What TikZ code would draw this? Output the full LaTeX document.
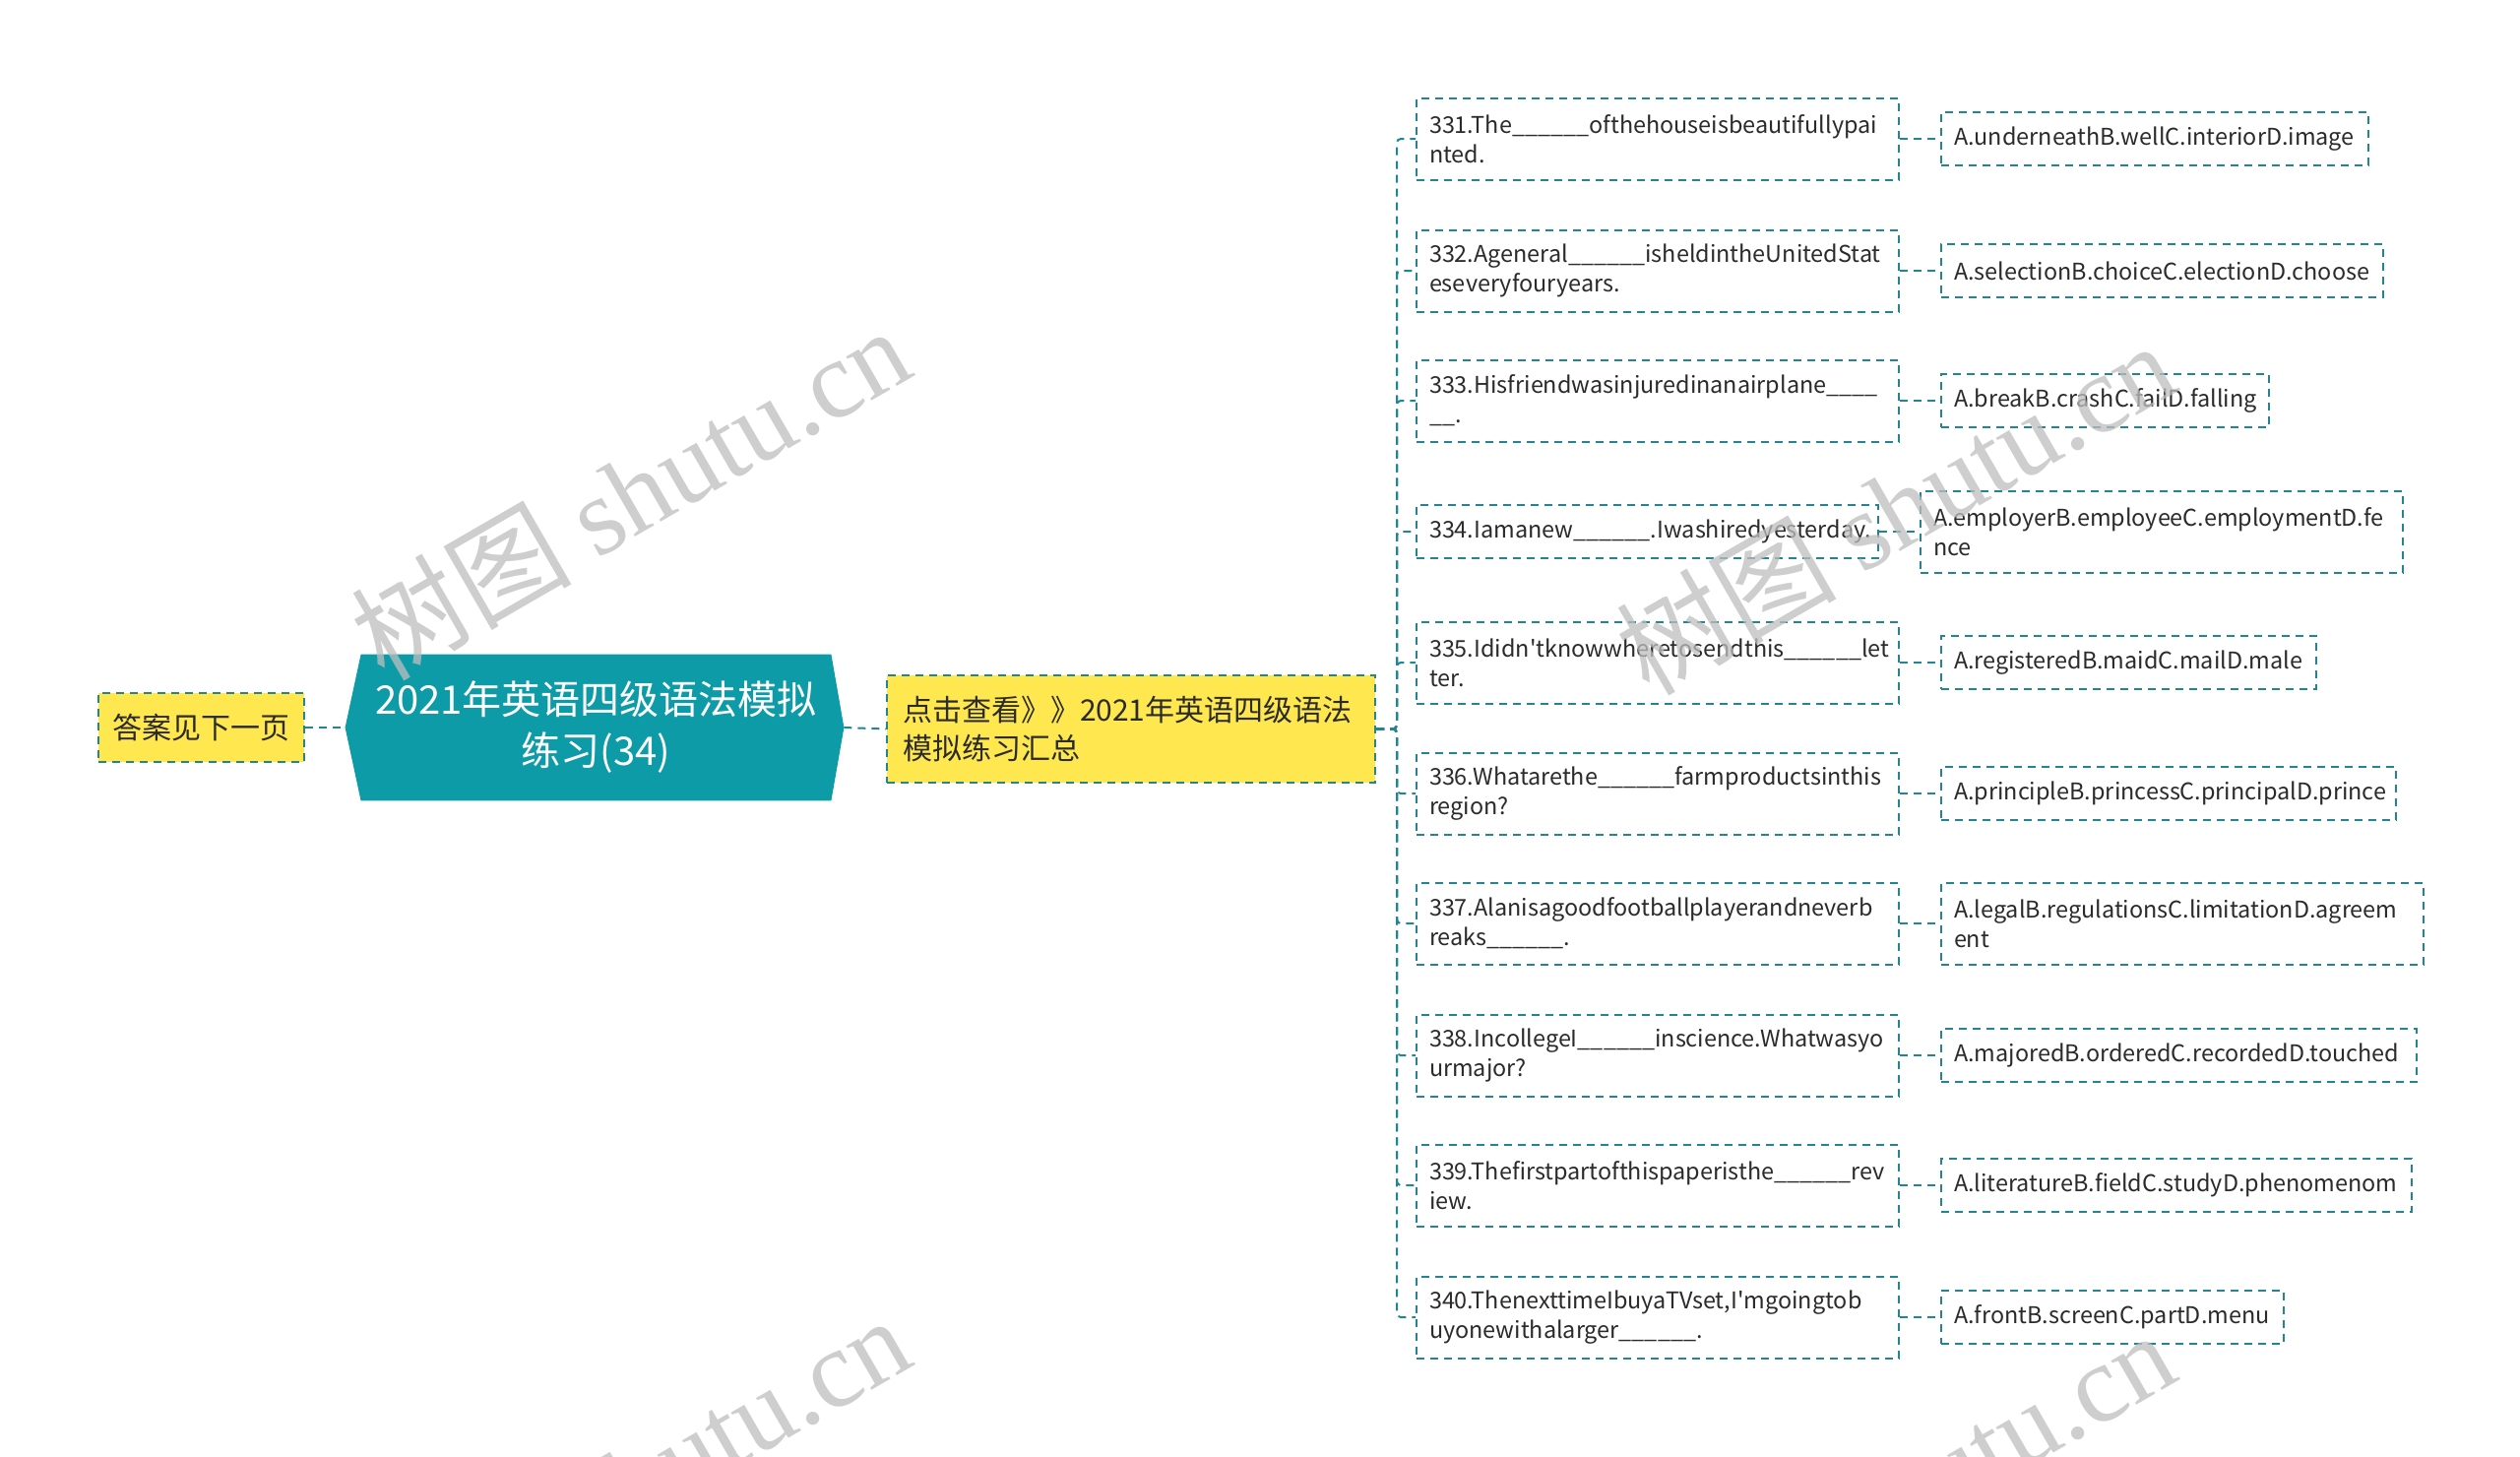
\documentclass[tikz,border=0pt]{standalone}
\usepackage{fontspec}
\setmainfont{Noto Sans CJK SC}
\newfontfamily\wmfont{Liberation Serif}
\usetikzlibrary{backgrounds,calc}
\hyphenpenalty=10000 \exhyphenpenalty=10000
\definecolor{hubfill}{HTML}{0E9BA8}
\definecolor{edgec}{HTML}{238591}
\definecolor{yel}{HTML}{FFE84F}
\definecolor{wmgray}{HTML}{BEBEBE}
\definecolor{txt}{HTML}{2B2B2B}
\begin{document}
\begin{tikzpicture}[x=0.5pt,y=-0.5pt,
  conn/.style={draw=edgec, line width=1pt, dash pattern=on 4pt off 3pt},
  boxbase/.style={draw=edgec, line width=1pt, dash pattern=on 4pt off 3pt, inner xsep=6.5pt, inner ysep=0pt, align=left, anchor=west, font=\fontsize{11.7pt}{15pt}\selectfont, text=txt},
  qbox/.style={boxbase, text width=#1, minimum height=41.5pt},
  qone/.style={boxbase, text width=#1, minimum height=27pt},
  yelbox/.style={draw=edgec, line width=1pt, dash pattern=on 4pt off 3pt, fill=yel, text=txt, font=\fontsize{15pt}{19.5pt}\selectfont},
  hubbox/.style={minimum width=238.5pt, minimum height=74pt, inner sep=0pt, align=center, text=white, font=\fontsize{20pt}{26pt}\selectfont},
  wm/.style={text=wmgray, opacity=0.75, rotate=30, font=\fontsize{56pt}{60pt}\selectfont, inner sep=0pt}
]
\clip (0,0) rectangle (2560,1479);

% left box
\node[yelbox, minimum width=104.5pt, minimum height=35pt, inner sep=0pt] (left) at (204.5,739) {答案见下一页};

% hub
\node[hubbox] (hub) at (605.5,739) {2021年英语四级语法模拟\\练习(34)};
\coordinate (hubL) at ([xshift=-8pt]hub.west);
\coordinate (hubR) at ([xshift=6.5pt]hub.east);
\begin{scope}[on background layer]
\fill[white] (0,0) rectangle (2560,1479);
\fill[hubfill] (hub.north west) -- (hub.north east) -- (hubR) -- (hub.south east) -- (hub.south west) -- (hubL) -- cycle;
\end{scope}

% summary box
\node[yelbox, anchor=west, align=left, text width=232pt, inner xsep=8pt, inner ysep=0pt, minimum height=54.5pt] (sum) at (900,740.5) {点击查看》》2021年英语四级语法\\模拟练习汇总};

% questions
\node[qbox=232pt] (q1) at (1438,141) {331.The\_\_\_\_\_\_ofthehouseisbeautifullypai\\nted.};
\node[qbox=232pt] (q2) at (1438,275) {332.Ageneral\_\_\_\_\_\_isheldintheUnitedStat\\eseveryfouryears.};
\node[qbox=232pt] (q3) at (1438,407) {333.Hisfriendwasinjuredinanairplane\_\_\_\_\\\_\_.};
\node[qone=221.5pt] (q4) at (1438,540) {334.Iamanew\_\_\_\_\_\_.Iwashiredyesterday.};
\node[qbox=232pt] (q5) at (1438,673) {335.Ididn\textquotesingle tknowwheretosendthis\_\_\_\_\_\_let\\ter.};
\node[qbox=232pt] (q6) at (1438,806) {336.Whatarethe\_\_\_\_\_\_farmproductsinthis\\region?};
\node[qbox=232pt] (q7) at (1438,938) {337.Alanisagoodfootballplayerandneverb\\reaks\_\_\_\_\_\_.};
\node[qbox=232pt] (q8) at (1438,1072) {338.IncollegeI\_\_\_\_\_\_inscience.Whatwasyo\\urmajor?};
\node[qbox=232pt] (q9) at (1438,1204) {339.Thefirstpartofthispaperisthe\_\_\_\_\_\_rev\\iew.};
\node[qbox=232pt] (q10) at (1438,1338) {340.ThenexttimeIbuyaTVset,I\textquotesingle mgoingtob\\uyonewithalarger\_\_\_\_\_\_.};

% answers
\node[qone=204pt] (a1) at (1971,141) {A.underneathB.wellC.interiorD.image};
\node[qone=211.5pt] (a2) at (1971,275) {A.selectionB.choiceC.electionD.choose};
\node[qone=153.5pt] (a3) at (1971,407) {A.breakB.crashC.failD.falling};
\node[qbox=232pt] (a4) at (1950,540) {A.employerB.employeeC.employmentD.fe\\nce};
\node[qone=177.5pt] (a5) at (1971,673) {A.registeredB.maidC.mailD.male};
\node[qone=218pt] (a6) at (1971,806) {A.principleB.princessC.principalD.prince};
\node[qbox=232pt] (a7) at (1971,938) {A.legalB.regulationsC.limitationD.agreem\\ent};
\node[qone=228.5pt] (a8) at (1971,1072) {A.majoredB.orderedC.recordedD.touched};
\node[qone=226pt] (a9) at (1971,1204) {A.literatureB.fieldC.studyD.phenomenom};
\node[qone=161pt] (a10) at (1971,1338) {A.frontB.screenC.partD.menu};

% connectors
\draw[conn] (left.east) -- (hubL);
\draw[conn] (hubR) -- (sum.west);
\foreach \i in {1,...,10}{
  \draw[conn, rounded corners=2pt] (sum.east) -- ++(21,0) |- (q\i.west);
  \draw[conn] (q\i.east) -- (a\i.west);
}

% watermarks
\node[wm] (wm1) at (640,500) {树图 {\wmfont shutu.cn}};
\node[wm] (wm2) at (1925,515) {树图 {\wmfont shutu.cn}};
\node[wm] (wm3) at (640,1505) {树图 {\wmfont shutu.cn}};
\node[wm] (wm4) at (1925,1520) {树图 {\wmfont shutu.cn}};
\end{tikzpicture}
\end{document}
